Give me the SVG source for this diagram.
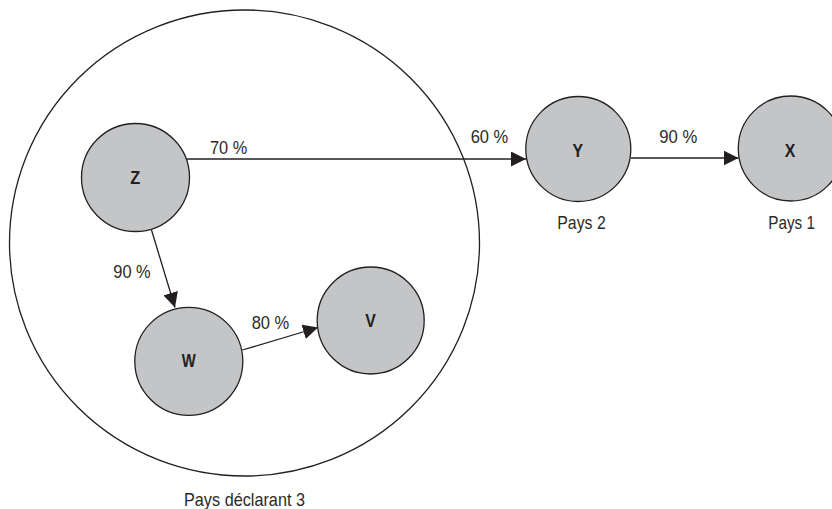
<svg xmlns="http://www.w3.org/2000/svg" width="832" height="509" viewBox="0 0 832 509">
  <style>
    .node { fill: #c4c5c7; stroke: #231f20; stroke-width: 1.3; }
    .zone { fill: none; stroke: #231f20; stroke-width: 1.3; }
    .edge { fill: none; stroke: #231f20; stroke-width: 1.3; marker-end: url(#arrow); }
    .lbl { font-family: "Liberation Sans Narrow", "Liberation Sans", Arial, sans-serif; font-size: 19px; fill: #2a2a2a; }
    .id { font-family: "Liberation Sans Narrow", "Liberation Sans", Arial, sans-serif; font-size: 18.5px; font-weight: bold; fill: #231f20; }
  </style>
  <defs>
    <marker id="arrow" markerWidth="15" markerHeight="15" viewBox="0 0 15 15" refX="15" refY="7.5" orient="auto" markerUnits="userSpaceOnUse">
      <path d="M0,0 L15,7.5 L0,15 Z" fill="#231f20"/>
    </marker>
  </defs>

  <rect width="832" height="509" fill="#ffffff"/>

  <!-- reporting country boundary -->
  <g id="pays3">
    <ellipse class="zone" cx="244.5" cy="243" rx="235" ry="233"/>
    <text class="lbl" x="184" y="506" textLength="121" lengthAdjust="spacingAndGlyphs">Pays déclarant 3</text>
  </g>

  <!-- connectors -->
  <g id="connectors">
    <line class="edge" x1="187" y1="159" x2="526" y2="159"/>
    <line class="edge" x1="631" y1="158" x2="738.5" y2="158"/>
    <line class="edge" x1="151.5" y1="230" x2="175" y2="307.5"/>
    <line class="edge" x1="242.5" y1="350" x2="318" y2="327.5"/>
    <text class="lbl" x="210" y="154.3" textLength="37.3" lengthAdjust="spacingAndGlyphs">70 %</text>
    <text class="lbl" x="470.7" y="142.7" textLength="37.6" lengthAdjust="spacingAndGlyphs">60 %</text>
    <text class="lbl" x="659.3" y="142.7" textLength="38" lengthAdjust="spacingAndGlyphs">90 %</text>
    <text class="lbl" x="113.3" y="278.3" textLength="37.4" lengthAdjust="spacingAndGlyphs">90 %</text>
    <text class="lbl" x="251.7" y="329.3" textLength="37.6" lengthAdjust="spacingAndGlyphs">80 %</text>
  </g>

  <g id="nodeZ">
    <circle class="node" cx="135.5" cy="177.5" r="54"/>
    <text class="id" x="130.2" y="184" textLength="10" lengthAdjust="spacingAndGlyphs">Z</text>
  </g>

  <g id="nodeW">
    <circle class="node" cx="188.8" cy="361.3" r="54"/>
    <text class="id" x="181.7" y="367.3" textLength="14" lengthAdjust="spacingAndGlyphs">W</text>
  </g>

  <g id="nodeV">
    <circle class="node" cx="370.7" cy="320.5" r="53.5"/>
    <text class="id" x="365.2" y="326.7" textLength="10.6" lengthAdjust="spacingAndGlyphs">V</text>
  </g>

  <g id="nodeY">
    <circle class="node" cx="578.3" cy="149" r="52.5"/>
    <text class="id" x="572.4" y="156.7" textLength="10.6" lengthAdjust="spacingAndGlyphs">Y</text>
    <text class="lbl" x="557.3" y="229.3" textLength="48.4" lengthAdjust="spacingAndGlyphs">Pays 2</text>
  </g>

  <g id="nodeX">
    <circle class="node" cx="790.8" cy="148.5" r="52.5"/>
    <text class="id" x="784.8" y="156.7" textLength="10.6" lengthAdjust="spacingAndGlyphs">X</text>
    <text class="lbl" x="768.3" y="229.3" textLength="46.7" lengthAdjust="spacingAndGlyphs">Pays 1</text>
  </g>
</svg>
